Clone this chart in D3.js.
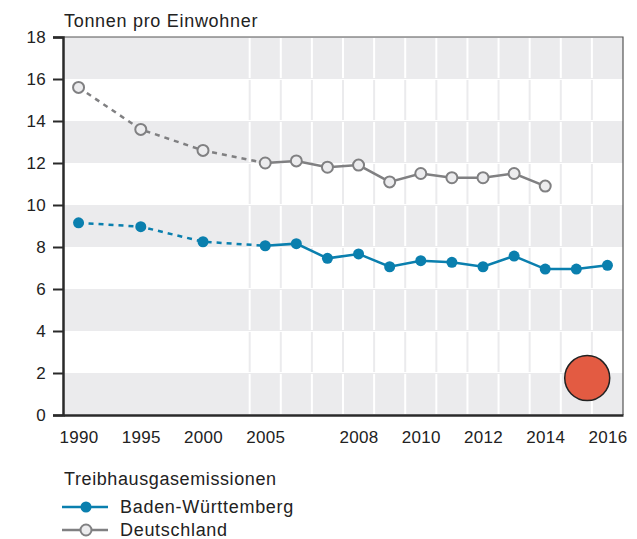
<!DOCTYPE html>
<html>
<head>
<meta charset="utf-8">
<script src="https://cdn.jsdelivr.net/npm/d3@7"></script>
<style>
  body { margin: 0; background: #fff; }
  text { font-family: "Liberation Sans", Arial, sans-serif; fill: #222; }
</style>
</head>
<body>
<div id="chart"></div>
<script>
// years and their slot index on the x axis (5-year steps take two slots)
var years = [1990, 1995, 2000, 2005, 2006, 2007, 2008, 2009, 2010, 2011, 2012, 2013, 2014, 2015, 2016];
var slots = [0, 2, 4, 6, 7, 8, 9, 10, 11, 12, 13, 14, 15, 16, 17];
var bwValues = [9.15, 8.97, 8.25, 8.06, 8.16, 7.46, 7.67, 7.06, 7.35, 7.27, 7.06, 7.57, 6.95, 6.95, 7.13];
var deValues = [15.6, 13.6, 12.6, 12.0, 12.1, 11.8, 11.9, 11.1, 11.5, 11.3, 11.3, 11.5, 10.9];
var xLabels = ["1990", "1995", "2000", "2005", "2008", "2010", "2012", "2014", "2016"];
var yTicks = [0, 2, 4, 6, 8, 10, 12, 14, 16, 18];

var blue = "#0a7fae", grey = "#808082", band = "#ebebed";

var svg = d3.select("#chart").append("svg")
    .attr("width", 637)
    .attr("height", 539);

var margin = {top: 37, right: 14, bottom: 124, left: 63},
    width = 637 - margin.left - margin.right,
    height = 539 - margin.top - margin.bottom;

var x = d3.scaleLinear().domain([-0.5, 17.5]).range([0, width]);
var y = d3.scaleLinear().domain([0, 18]).range([height, 0]);

var g = svg.append("g")
    .attr("transform", "translate(" + margin.left + "," + margin.top + ")");

// bands every 2 units, grey and white alternating
var bands = d3.range(0, 18, 2).map(function(d, i) { return {lo: d, grey: i % 2 === 0}; });
g.selectAll(".band")
    .data(bands)
    .enter().append("rect")
    .attr("x", 0)
    .attr("width", width)
    .attr("y", function(d) { return y(d.lo + 2); })
    .attr("height", function(d) { return y(d.lo) - y(d.lo + 2); })
    .attr("fill", function(d) { return d.grey ? band : "#fff"; });

// vertical grid between yearly slots (from 2005 on), contrasting colour per band
var vgrid = d3.range(5.5, 17.5, 1);
bands.forEach(function(b) {
    g.selectAll(null)
        .data(vgrid)
        .enter().append("line")
        .attr("x1", function(d) { return x(d); })
        .attr("x2", function(d) { return x(d); })
        .attr("y1", y(b.lo + 2) + 1)
        .attr("y2", y(b.lo) - 1)
        .attr("stroke", b.grey ? "#fff" : band)
        .attr("stroke-width", 2);
});

// frame top/right
g.append("path")
    .attr("d", "M0,0H" + width + "V" + height)
    .attr("fill", "none")
    .attr("stroke", "#555")
    .attr("stroke-width", 1.2);

// axes
var yAxis = g.append("g")
    .call(d3.axisLeft(y).tickValues(yTicks).tickSize(10).tickPadding(7));
yAxis.select(".domain").attr("stroke", "#2a2a2a").attr("stroke-width", 2.5);
yAxis.selectAll(".tick line").attr("stroke", "#2a2a2a").attr("stroke-width", 2);
yAxis.selectAll("text").style("font-size", "17px").style("letter-spacing", "0.3px").attr("fill", "#222");

var xAxis = g.append("g")
    .attr("transform", "translate(0," + height + ")")
    .call(d3.axisBottom(x)
        .tickValues(xLabels.map(function(l) { return slots[years.indexOf(+l)]; }))
        .tickFormat(function(d) { return years[slots.indexOf(d)]; })
        .tickSize(0).tickPadding(16)
        .tickSizeOuter(0));
xAxis.select(".domain").attr("stroke", "#2a2a2a").attr("stroke-width", 2.5);
xAxis.selectAll("text").style("font-size", "17px").style("letter-spacing", "0.3px").attr("fill", "#222");

// axis title
svg.append("text")
    .attr("x", 64)
    .attr("y", 27)
    .style("font-size", "18px")
    .style("letter-spacing", "0.7px")
    .text("Tonnen pro Einwohner");

function series(vals) {
    return vals.map(function(v, i) { return {s: slots[i], v: v}; });
}
var line = d3.line()
    .x(function(d) { return x(d.s); })
    .y(function(d) { return y(d.v); });

function drawSeries(vals, color, fill, r) {
    var data = series(vals);
    var split = slots.indexOf(6);
    g.append("path")
        .datum(data.slice(0, split + 1))
        .attr("d", line)
        .attr("fill", "none")
        .attr("stroke", color)
        .attr("stroke-width", 2.5)
        .attr("stroke-dasharray", "5,5");
    g.append("path")
        .datum(data.slice(split))
        .attr("d", line)
        .attr("fill", "none")
        .attr("stroke", color)
        .attr("stroke-width", 2.5);
    g.selectAll(null)
        .data(data)
        .enter().append("circle")
        .attr("cx", function(d) { return x(d.s); })
        .attr("cy", function(d) { return y(d.v); })
        .attr("r", r)
        .attr("fill", fill)
        .attr("stroke", color)
        .attr("stroke-width", fill === color ? 0 : 2);
}
drawSeries(deValues, grey, "#ececee", 5.5);
drawSeries(bwValues, blue, blue, 5.5);

// red indicator
g.append("circle")
    .attr("cx", x(16.35))
    .attr("cy", y(1.76))
    .attr("r", 22.5)
    .attr("fill", "#e35b42")
    .attr("stroke", "#222")
    .attr("stroke-width", 1.5);

// legend
var legend = svg.append("g").attr("transform", "translate(62,0)");
legend.append("text")
    .attr("x", 2).attr("y", 485)
    .style("font-size", "18px")
    .style("letter-spacing", "0.6px")
    .text("Treibhausgasemissionen");
var items = [
    {name: "Baden-Württemberg", color: blue, fill: blue, y: 507},
    {name: "Deutschland", color: grey, fill: "#ececee", y: 530}
];
items.forEach(function(it) {
    legend.append("line")
        .attr("x1", 0).attr("x2", 46)
        .attr("y1", it.y).attr("y2", it.y)
        .attr("stroke", it.color)
        .attr("stroke-width", 2.5);
    legend.append("circle")
        .attr("cx", 24).attr("cy", it.y)
        .attr("r", 5.5)
        .attr("fill", it.fill)
        .attr("stroke", it.color)
        .attr("stroke-width", it.fill === it.color ? 0 : 2);
    legend.append("text")
        .attr("x", 58).attr("y", it.y + 6)
        .style("font-size", "18px")
        .style("letter-spacing", "0.7px")
        .text(it.name);
});
</script>
</body>
</html>
